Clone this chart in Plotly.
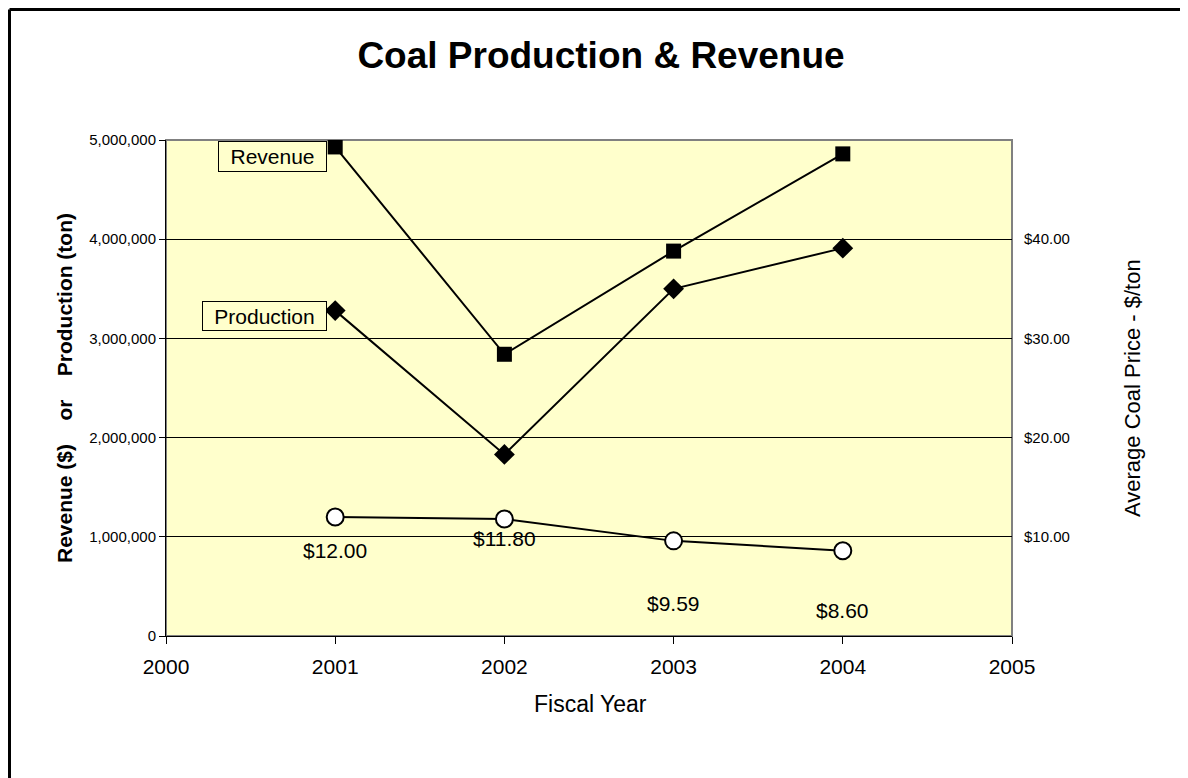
import plotly.graph_objects as go

years = [2001, 2002, 2003, 2004]
revenue = [4930000, 2840000, 3880000, 4860000]
production = [3280000, 1830000, 3500000, 3910000]
price = [12.00, 11.80, 9.59, 8.60]
price_labels = ["$12.00", "$11.80", "$9.59", "$8.60"]
label_shift = [-34, -20, -63, -60]
price_ticks = [10, 20, 30, 40]
price_tick_text = ["$10.00", "$20.00", "$30.00", "$40.00"]

FONT = "Arial, Liberation Sans, sans-serif"
BG = "#FFFFCC"

W, H = 1180, 770
L, T, PW, PH = 158, 132, 846, 496

fig = go.Figure()
fig.add_trace(go.Scatter(x=years, y=revenue, mode="lines+markers",
                         line=dict(color="black", width=2),
                         marker=dict(symbol="square", size=15, color="black"),
                         name="Revenue", showlegend=False))
fig.add_trace(go.Scatter(x=years, y=production, mode="lines+markers",
                         line=dict(color="black", width=2),
                         marker=dict(symbol="diamond", size=16, color="black"),
                         name="Production", showlegend=False))
fig.add_trace(go.Scatter(x=years, y=price, mode="lines+markers", yaxis="y2",
                         line=dict(color="black", width=2),
                         marker=dict(symbol="circle", size=17, color="white",
                                     line=dict(color="black", width=2)),
                         name="Price", showlegend=False))

annotations = []
for x, p, t, s in zip(years, price, price_labels, label_shift):
    annotations.append(dict(x=x, y=p, xref="x", yref="y2", text=t, showarrow=False,
                            yshift=s, yanchor="middle",
                            font=dict(family=FONT, size=21, color="black")))

annotations.append(dict(x=2000.9515, y=4829000, xref="x", yref="y", text="Revenue",
                        showarrow=False, xanchor="right", yanchor="middle",
                        width=107, height=29, align="center", valign="middle",
                        bgcolor=BG, bordercolor="black", borderwidth=1, borderpad=0,
                        font=dict(family=FONT, size=21, color="black")))
annotations.append(dict(x=2000.9515, y=3226000, xref="x", yref="y", text="Production",
                        showarrow=False, xanchor="right", yanchor="middle",
                        width=123, height=28, align="center", valign="middle",
                        bgcolor=BG, bordercolor="black", borderwidth=1, borderpad=0,
                        font=dict(family=FONT, size=21, color="black")))

# axis titles
annotations.append(dict(x=(64 - 166) / PW, y=0.5, xref="paper", yref="paper",
                        xanchor="center", yanchor="middle",
                        text="<b>Revenue ($)    or    Production (ton)</b>",
                        textangle=-90, showarrow=False,
                        font=dict(family=FONT, size=21, color="black")))
annotations.append(dict(x=(1132 - 166) / PW, y=0.5, xref="paper", yref="paper",
                        xanchor="center", yanchor="middle",
                        text="Average Coal Price - $/ton",
                        textangle=-90, showarrow=False,
                        font=dict(family=FONT, size=22, color="black")))
annotations.append(dict(x=(590 - 166) / PW, y=(636 - 704) / PH, xref="paper", yref="paper",
                        xanchor="center", yanchor="middle",
                        text="Fiscal Year", showarrow=False,
                        font=dict(family=FONT, size=23, color="black")))

bx = (1.5 - L) / PW
by = 1 + (T - 1.5) / PH
shapes = [
    dict(type="rect", xref="paper", yref="paper", x0=0, x1=1, y0=0, y1=1,
         line=dict(color="#808080", width=2), layer="below"),
    dict(type="line", xref="paper", yref="paper", x0=bx, x1=1.3, y0=by, y1=by,
         line=dict(color="black", width=3)),
    dict(type="line", xref="paper", yref="paper", x0=bx, x1=bx, y0=by, y1=-0.4,
         line=dict(color="black", width=3)),
]

fig.update_layout(
    width=W, height=H,
    margin=dict(l=L, r=W - L - PW, t=T, b=H - T - PH),
    paper_bgcolor="white", plot_bgcolor=BG,
    title=dict(text="<b>Coal Production & Revenue</b>", x=593 / W, xanchor="center",
               y=1 - 47 / H, yanchor="middle",
               font=dict(family=FONT, size=37, color="black")),
    font=dict(family=FONT, color="black"),
    xaxis=dict(range=[2000, 2005], dtick=1, tick0=2000, showgrid=False, zeroline=False,
               showline=True, linecolor="black", linewidth=1,
               ticks="outside", ticklen=7, tickcolor="black", ticklabelstandoff=5,
               tickfont=dict(family=FONT, size=21, color="black")),
    yaxis=dict(range=[0, 5000000], dtick=1000000, tickformat=",d",
               showgrid=True, gridcolor="black", gridwidth=1, zeroline=False,
               showline=True, linecolor="black", linewidth=1,
               ticks="outside", ticklen=6, tickcolor="black",
               tickfont=dict(family=FONT, size=15, color="black")),
    yaxis2=dict(range=[0, 50], overlaying="y", side="right",
                tickmode="array", tickvals=price_ticks, ticktext=price_tick_text,
                showgrid=False, zeroline=False, showline=False,
                ticks="outside", ticklen=8, tickcolor="rgba(0,0,0,0)",
                tickfont=dict(family=FONT, size=15, color="black")),
    annotations=annotations,
    shapes=shapes,
)

fig.write_html("out.html")
